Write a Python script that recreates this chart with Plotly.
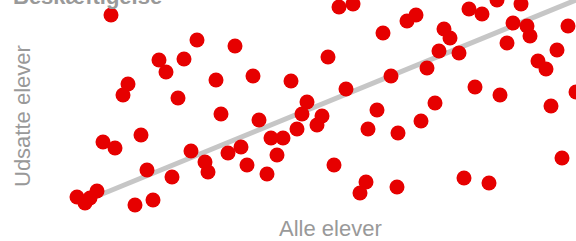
import plotly.graph_objects as go

# Scatter values (Alle elever vs Udsatte elever)
alle_elever = [111, 77, 85, 90, 97, 103, 115, 141, 135, 153, 147, 172, 191, 123, 128, 178,
               159, 166, 184, 197, 235, 216, 253, 291, 339, 353, 383, 328, 391, 346, 307,
               302, 322, 377, 221, 259, 297, 317, 283, 271, 277, 228, 241, 247, 267, 205,
               208, 334, 368, 398, 366, 360, 397, 407, 416, 469, 482, 497, 521, 568, 444,
               450, 439, 459, 513, 527, 530, 507, 557, 538, 546, 427, 475, 500, 435, 421,
               551, 576, 464, 489, 562]
udsatte_elever = [15, 197, 203, 198, 191, 142, 148, 135, 205, 200, 170, 177, 151, 95, 84, 98,
                  60, 72, 59, 40, 46, 80, 76, 81, 7, 4, 33, 57, 76, 89, 102,
                  114, 116, 110, 114, 120, 129, 125, 138, 138, 155, 153, 147, 165, 174, 162,
                  172, 165, 129, 133, 182, 193, 187, 21, 15, 9, 14, 0, 4, 26, 29,
                  38, 51, 53, 23, 26, 36, 43, 50, 61, 69, 68, 87, 95, 103, 121,
                  106, 92, 178, 183, 158]

trend_x = [90, 576]
trend_y = [199, 0]

title_text = "Beskæftigelse"
x_title = "Alle elever"
y_title = "Udsatte elever"

grey = "#999999"
font_family = "Liberation Sans, Arial, sans-serif"

fig = go.Figure()
fig.add_trace(go.Scatter(x=trend_x, y=trend_y, mode="lines",
                         line=dict(color="#c6c6c6", width=5), hoverinfo="skip"))
fig.add_trace(go.Scatter(x=alle_elever, y=udsatte_elever, mode="markers",
                         marker=dict(color="#e60000", size=15, line=dict(width=0))))

fig.update_layout(
    width=576, height=241,
    margin=dict(l=0, r=0, t=0, b=0),
    paper_bgcolor="white", plot_bgcolor="white",
    showlegend=False,
    xaxis=dict(range=[0, 576], visible=False, fixedrange=True),
    yaxis=dict(range=[241, 0], visible=False, fixedrange=True),
    font=dict(family=font_family, color=grey, size=22),
)

fig.add_annotation(text="<b>" + title_text + "</b>", xref="paper", yref="paper",
                   x=11 / 576, y=1 + 4 / 241, xanchor="left", yanchor="middle",
                   showarrow=False, font=dict(size=22, color=grey, family=font_family))
fig.add_annotation(text=x_title, xref="paper", yref="paper",
                   x=330 / 576, y=1 - 228 / 241, xanchor="center", yanchor="middle",
                   showarrow=False, font=dict(size=22, color=grey, family=font_family))
fig.add_annotation(text=y_title, xref="paper", yref="paper",
                   x=22 / 576, y=1 - 116 / 241, xanchor="center", yanchor="middle",
                   textangle=-90, showarrow=False,
                   font=dict(size=22, color=grey, family=font_family))

fig.write_html("out.html", config={"displayModeBar": False},
               post_script="document.body.style.margin='0';document.body.style.overflow='hidden';")
